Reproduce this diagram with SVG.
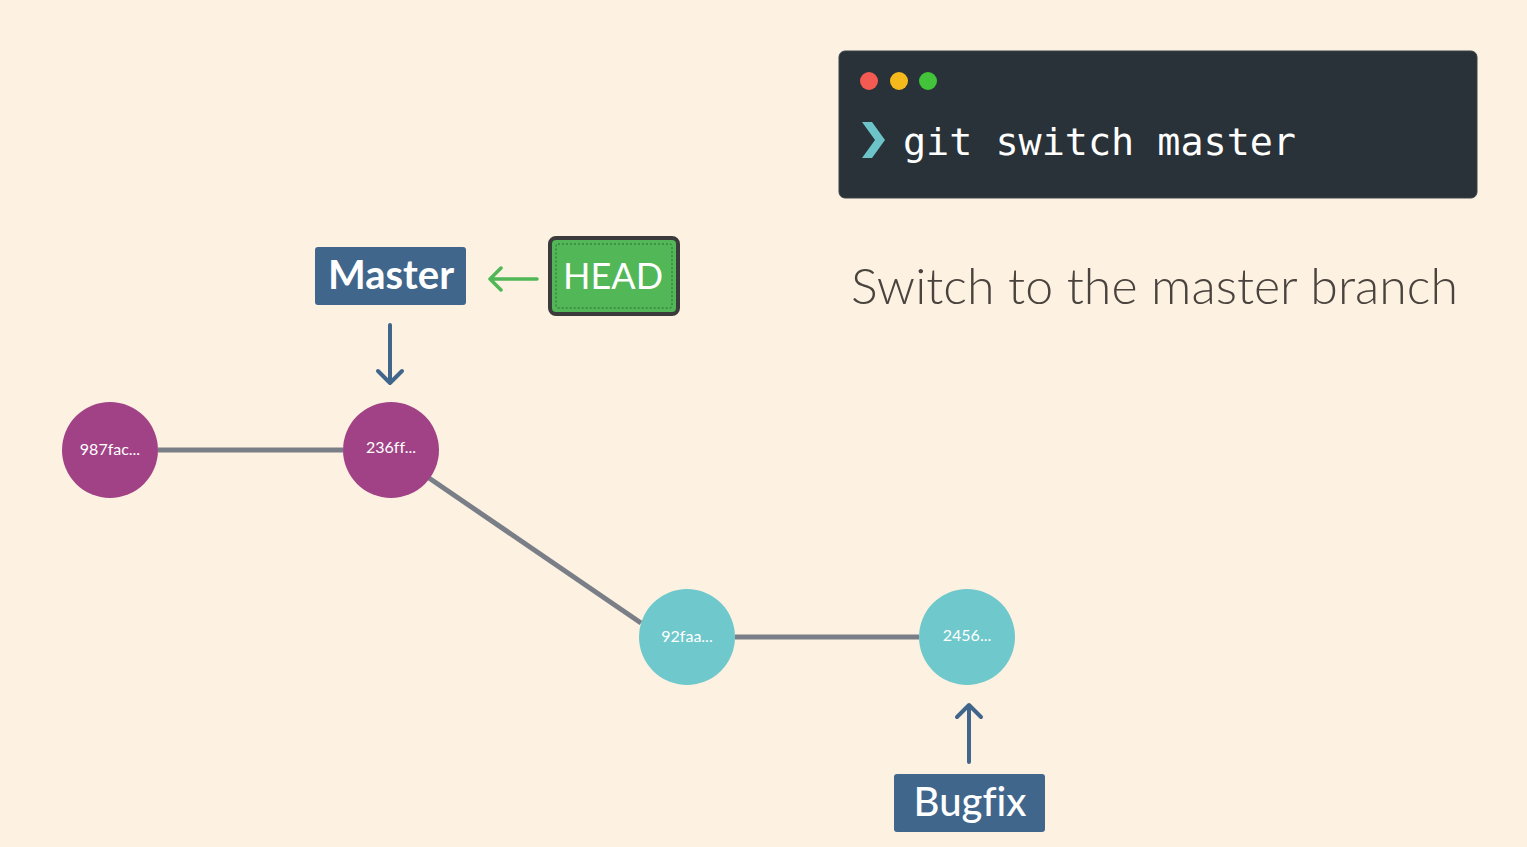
<svg xmlns="http://www.w3.org/2000/svg" width="1527" height="847" viewBox="0 0 1527 847">
<style>
.lbl{fill:#ffffff;font-family:Lato,"Noto Sans",sans-serif;text-anchor:middle;font-variant-ligatures:none}
.commit{fill:#ffffff;font-family:Lato,"Noto Sans",sans-serif;font-size:16px;text-anchor:middle;font-variant-ligatures:none}
.edge{stroke:#7a7e87;stroke-width:5;fill:none}
.ptr{stroke:#41668c;stroke-width:4;fill:none;stroke-linecap:round;stroke-linejoin:round}
</style>
<rect width="1527" height="847" fill="#fdf2e1"/>
<g id="terminal">
<rect x="839" y="51" width="638" height="147" rx="6" fill="#283238" stroke="#3a4348" stroke-width="1"/>
<circle cx="869" cy="81" r="9" fill="#f25a52"/>
<circle cx="899" cy="81" r="9" fill="#f6b91c"/>
<circle cx="928" cy="81" r="9" fill="#43c33a"/>
<polygon points="862,122 872,122 885,140 872,158 862,158 875,140" fill="#6cc4c8"/>
<text x="903" y="155" font-family="'DejaVu Sans Mono','Liberation Mono',monospace" font-size="38" fill="#ffffff" textLength="393" lengthAdjust="spacingAndGlyphs">git switch master</text>
</g>
<g id="caption">
<text x="851" y="304" font-family="Lato,'Noto Sans',sans-serif" font-weight="300" font-size="50" fill="#4a433e" textLength="607" lengthAdjust="spacingAndGlyphs">Switch to the master branch</text>
</g>
<g id="connectors">
<line class="edge" x1="158" y1="450" x2="343" y2="450"/>
<line class="edge" x1="429" y1="478" x2="641" y2="623"/>
<line class="edge" x1="735" y1="637" x2="919" y2="637"/>
<path class="ptr" d="M390,325 V383 M378,371 L390,383 L402,371"/>
<path class="ptr" d="M969,762 V705 M957,717 L969,705 L981,717"/>
<path d="M537,279 H490 M501,268 L490,279 L501,290" stroke="#50b757" stroke-width="3.5" fill="none" stroke-linecap="round" stroke-linejoin="round"/>
</g>
<g id="master">
<rect x="315" y="247" width="151" height="58" rx="3" fill="#41668c"/>
<text class="lbl" x="391" y="289" font-size="40" font-weight="bold">Master</text>
</g>
<g id="head">
<rect x="550" y="238" width="128" height="76" rx="6" fill="#51b757" stroke="#3b3b3b" stroke-width="4"/>
<rect x="556" y="244" width="116" height="64" rx="2" fill="none" stroke="#2f6e33" stroke-width="1" stroke-dasharray="2,2"/>
<text class="lbl" x="613" y="289" font-size="36">HEAD</text>
</g>
<g id="c987fac">
<circle cx="110" cy="450" r="48" fill="#a14286"/>
<text class="commit" x="110" y="455">987fac...</text>
</g>
<g id="c236ff">
<circle cx="391" cy="450" r="48" fill="#a14286"/>
<text class="commit" x="391" y="453">236ff...</text>
</g>
<g id="c92faa">
<circle cx="687" cy="637" r="48" fill="#6fc8cb"/>
<text class="commit" x="687" y="642">92faa...</text>
</g>
<g id="c2456">
<circle cx="967" cy="637" r="48" fill="#6fc8cb"/>
<text class="commit" x="967" y="641">2456...</text>
</g>
<g id="bugfix">
<rect x="894" y="774" width="151" height="58" rx="3" fill="#41668c"/>
<text class="lbl" x="970" y="816" font-size="40" font-weight="500">Bugfix</text>
</g>
</svg>
